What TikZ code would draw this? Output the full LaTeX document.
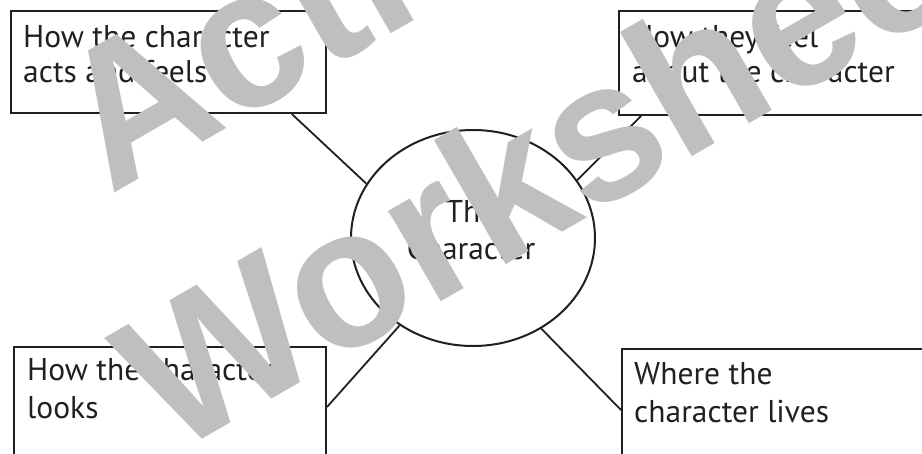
\documentclass[tikz,border=0pt]{standalone}
\usepackage{fontspec}
\setmainfont{PT Sans}
\newfontfamily\markfont{Liberation Sans}
\usetikzlibrary{calc,shapes.geometric}
\definecolor{ink}{HTML}{231F20}
\definecolor{markgray}{HTML}{BFBFBF}
\begin{document}
\begin{tikzpicture}[x=1pt,y=-1pt,
  box/.style={draw=ink,line width=2pt,rectangle,inner sep=0pt,anchor=north west},
  boxtext/.style={anchor=base west,inner sep=0pt,align=left,text=ink,
    font=\fontsize{31.5}{35}\selectfont},
  lowtext/.style={boxtext,font=\fontsize{31.5}{38}\selectfont},
  link/.style={draw=ink,line width=1.8pt},
  wmark/.style={text=markgray,font=\markfont\bfseries\fontsize{198}{200}\selectfont,
    rotate=30,xscale=0.975,anchor=base west,inner sep=0pt}]
\useasboundingbox (0,0) rectangle (922,453);
\clip (0,0) rectangle (922,453);

% central topic
\node[draw=ink,line width=2pt,ellipse,inner sep=0pt,
      minimum width=244pt,minimum height=216pt] (ell) at (473,238) {};
\node[text=ink,inner sep=0pt,align=center,anchor=base,
      font=\fontsize{31.5}{37}\selectfont]
      (etext) at (471,259) {The\\Character};

% the four boxes
\node[box,minimum width=315pt,minimum height=102pt] (tl) at (10,10) {};
\node[box,minimum width=320pt,minimum height=104pt] (tr) at (618,10) {};
\node[box,minimum width=312pt,minimum height=120pt] (bl) at (13,346) {};
\node[box,minimum width=320pt,minimum height=120pt] (br) at (621,348) {};

% box texts, placed by the baseline of their last line
\node[boxtext] (tltext) at (23,82) {How the character\\acts and feels};
\node[boxtext] (trtext) at (632,82) {How they feel\\about the character};
\node[lowtext] (bltext) at (27,418) {How the character\\looks};
\node[lowtext] (brtext) at (634,422) {Where the\\character lives};

% spokes
\draw[link] (ell.153.4) -- ($(tl.south west)!0.889!(tl.south east)$);
\draw[link] (ell.29.1) -- ($(tr.south west)+(23,0)$);
\draw[link] (ell.230.8) -- ($(bl.north east)+(0,61)$);
\draw[link] (ell.307.5) -- ($(br.north west)+(0,62)$);

% watermark
\node[wmark] (wmA) at (110,196) {Active};
\node[wmark] (wmB) at (172,457) {Worksheets};
\end{tikzpicture}
\end{document}
